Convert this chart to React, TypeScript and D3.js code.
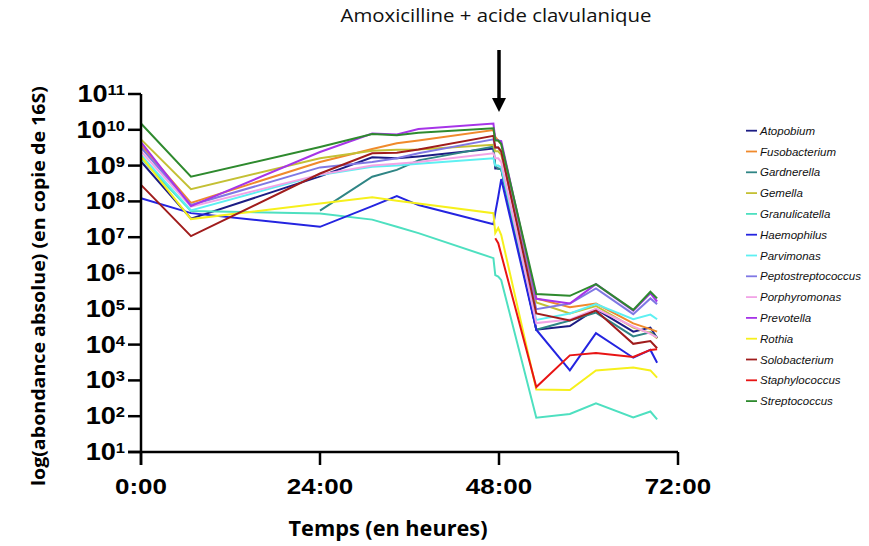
import React from 'react';
import * as d3 from 'd3';

// ---- DATA ----
const hours = [0, 6.7, 24, 31, 34.3, 37.2, 47.25, 47.5, 47.9, 48.3, 53, 57.5, 61, 66, 68.3, 69.2];
const xTicks = [0, 24, 48, 72];
const xTickLabels = ['0:00', '24:00', '48:00', '72:00'];
const yExponents = [1, 2, 3, 4, 5, 6, 7, 8, 9, 10, 11];

const species = [
  'Atopobium', 'Fusobacterium', 'Gardnerella', 'Gemella', 'Granulicatella', 'Haemophilus',
  'Parvimonas', 'Peptostreptococcus', 'Porphyromonas', 'Prevotella', 'Rothia',
  'Solobacterium', 'Staphylococcus', 'Streptococcus',
];

const atopobium = [1.3e9, 3.3e7, 5e8, 1.7e9, 1.6e9, 1.8e9, 3e9, 8.3e8, 8.3e8, 8e8, 2.6e4, 3.3e4, 9.8e4, 2.3e4, 3e4, 1.5e4];
const fusobacterium = [3.8e9, 9.1e7, 1.26e9, 2.9e9, 4.2e9, 5e9, 9.8e9, 6.3e9, 5e9, 4e9, 1.95e5, 1.1e5, 1.4e5, 3.9e4, 2.7e4, 2.3e4];
const gardnerella = [null, null, 5.5e7, 4.9e8, 7.6e8, 1.4e9, 3.4e9, 1e9, 8e8, 8e8, 2.6e4, 4.7e4, 7.8e4, 1.7e4, 2.2e4, 1.6e4];
const gemella = [5.4e9, 2.2e8, 1.6e9, 2.6e9, 2.75e9, 2.8e9, 3.8e9, 2.5e9, 2.5e9, 2e9, 1.5e5, 7.4e4, 1.2e5, 3e4, 2.1e4, 1.5e4];
const granulicatella = [1.6e9, 5.4e7, 4.6e7, 3.1e7, 1.95e7, 1.3e7, 2.6e6, 8.7e5, 7.9e5, 6.3e5, 91, 115, 230, 93, 135, 81];
const haemophilus = [1.23e8, 4.7e7, 1.95e7, 7.4e7, 1.4e8, 7.9e7, 2.3e7, 4.8e7, 1.35e8, 4.2e8, 2.6e4, 1.9e3, 2.1e4, 4.3e3, 7.1e3, 3.1e3];
const parvimonas = [2e9, 5.6e7, 5.5e8, 9.3e8, 1e9, 1.12e9, 1.6e9, 1e9, 1e9, 8.9e8, 4.9e4, 7.4e4, 1.35e5, 5.1e4, 6.9e4, 5.1e4];
const peptostreptococcus = [3.2e9, 7.9e7, 8.9e8, 1.26e9, 1.6e9, 2.2e9, 5.4e9, 3.2e9, 3.2e9, 2.5e9, 9.8e4, 1.4e5, 3.7e5, 7.1e4, 1.95e5, 1.35e5];
const porphyromonas = [2.5e9, 7.1e7, 5.6e8, 1e9, 1.12e9, 1.26e9, 2.2e9, 1.6e9, 1.6e9, 1.26e9, 4e4, 5e4, 1e5, 3.2e4, 2e4, 1.6e4];
const prevotella = [4.5e9, 7.4e7, 2.4e9, 7.9e9, 7.4e9, 1.05e10, 1.5e10, 5.4e9, 5e9, 4.8e9, 1.9e5, 1.4e5, 4.9e5, 8.9e4, 2.7e5, 1.6e5];
const rothia = [1.8e9, 3.2e7, 8.7e7, 1.3e8, 1.05e8, 8.7e7, 4.7e7, 1.3e7, 1.8e7, 1.15e7, 560, 540, 1.9e3, 2.3e3, 1.9e3, 1.2e3];
const solobacterium = [2.9e8, 1.07e7, 6e8, 2.2e9, 2.3e9, 2.8e9, 6.8e9, 3.2e9, 3.2e9, 2.5e9, 7.4e4, 4.7e4, 8.9e4, 1.05e4, 1.26e4, 7.9e3];
const staphylococcus = [null, null, null, null, null, null, null, 9.3e6, 6.8e6, null, 650, 5e3, 5.8e3, 4.5e3, 7.1e3, 7.4e3];
const streptococcus = [1.5e10, 4.9e8, 3.3e9, 7.6e9, 7.1e9, 8.3e9, 1.1e10, 5e9, 5e9, 4e9, 2.6e5, 2.3e5, 4.9e5, 9.3e4, 3e5, 1.95e5];

const seriesValues = [
  atopobium, fusobacterium, gardnerella, gemella, granulicatella, haemophilus,
  parvimonas, peptostreptococcus, porphyromonas, prevotella, rothia,
  solobacterium, staphylococcus, streptococcus,
];

const colors = [
  '#1c1c84', '#f08a2c', '#2f8585', '#c4c034', '#4ee0c0', '#2424e0',
  '#5ef0f2', '#8078e4', '#f2a4e6', '#a634e8', '#f6f01c',
  '#a01c1c', '#e81414', '#2e8a2e',
];

const title = 'Amoxicilline + acide clavulanique';
const xTitle = 'Temps (en heures)';
const yTitle = 'log(abondance absolue) (en copie de 16S)';

export default function App() {
  const x = d3.scaleLinear().domain([0, 72]).range([141, 678]);
  const y = d3.scaleLog().domain([10, 1e11]).range([452, 94]);
  const line = d3
    .line<[number, number]>()
    .x((d) => x(d[0]))
    .y((d) => y(d[1]));

  const paths = seriesValues.map((vals) => {
    const pts: [number, number][] = [];
    vals.forEach((v, i) => {
      if (v !== null && v !== undefined) pts.push([hours[i], v as number]);
    });
    return line(pts) || '';
  });

  const stretch = 1.18;
  const tickFont = "'Liberation Sans', Arial, sans-serif";

  return (
    <svg
      width={869}
      height={546}
      style={{ position: 'absolute', left: 0, top: 0, background: '#fff' }}
    >
      <rect x={0} y={0} width={869} height={546} fill="#fff" />
      {/* title + arrow */}
      <text
        x={496}
        y={22}
        textAnchor="middle"
        fontFamily="'Open Sans', sans-serif"
        fontSize={18}
        fill="#111"
        textLength={311}
        lengthAdjust="spacingAndGlyphs"
      >
        {title}
      </text>
      <line x1={x(48)} x2={x(48)} y1={50} y2={100} stroke="#000" strokeWidth={3.5} />
      <polygon
        points={`${x(48) - 7},98 ${x(48) + 7},98 ${x(48)},112`}
        fill="#000"
      />

      {/* series */}
      {paths.map((d, i) => (
        <path key={species[i]} d={d} fill="none" stroke={colors[i]} strokeWidth={2} strokeLinejoin="miter" />
      ))}

      {/* axes */}
      <line x1={x(0)} x2={x(0)} y1={y(1e11)} y2={465} stroke="#000" strokeWidth={2.5} />
      <line x1={128} x2={x(72)} y1={y(10)} y2={y(10)} stroke="#000" strokeWidth={2.5} />
      {yExponents.map((e) => {
        const yy = y(Math.pow(10, e));
        return (
          <g key={'y' + e}>
            <line x1={128} x2={x(0)} y1={yy} y2={yy} stroke="#000" strokeWidth={2.5} />
            <text
              transform={`translate(125, ${yy + 8}) scale(${stretch},1)`}
              textAnchor="end"
              fontFamily={tickFont}
              fontWeight="bold"
              fontSize={23}
              fill="#000"
            >
              <tspan>10</tspan>
              <tspan fontSize={14} dy={-7}>{String(e)}</tspan>
            </text>
          </g>
        );
      })}
      {xTicks.map((t, i) => (
        <g key={'x' + t}>
          <line x1={x(t)} x2={x(t)} y1={y(10)} y2={465} stroke="#000" strokeWidth={2.5} />
          <text
            transform={`translate(${x(t)}, 494) scale(${stretch},1)`}
            textAnchor="middle"
            fontFamily={tickFont}
            fontWeight="bold"
            fontSize={22}
            fill="#000"
          >
            {xTickLabels[i]}
          </text>
        </g>
      ))}

      {/* axis titles */}
      <text
        x={388}
        y={536}
        textAnchor="middle"
        fontFamily="'Open Sans', sans-serif"
        fontWeight="bold"
        fontSize={21}
        fill="#000"
        textLength={199}
        lengthAdjust="spacingAndGlyphs"
      >
        {xTitle}
      </text>
      <text
        transform="translate(45, 286) rotate(-90)"
        textAnchor="middle"
        fontFamily="'Open Sans', sans-serif"
        fontWeight="bold"
        fontSize={17.5}
        fill="#000"
        textLength={400}
        lengthAdjust="spacingAndGlyphs"
      >
        {yTitle}
      </text>

      {/* legend */}
      {species.map((s, i) => {
        const cy = 130.7 + i * 20.8;
        return (
          <g key={'lg' + s}>
            <line x1={746} x2={757} y1={cy} y2={cy} stroke={colors[i]} strokeWidth={1.8} />
            <text
              x={760}
              y={cy + 4}
              fontFamily={tickFont}
              fontStyle="italic"
              fontSize={11.5}
              fill="#111"
            >
              {s}
            </text>
          </g>
        );
      })}
    </svg>
  );
}
